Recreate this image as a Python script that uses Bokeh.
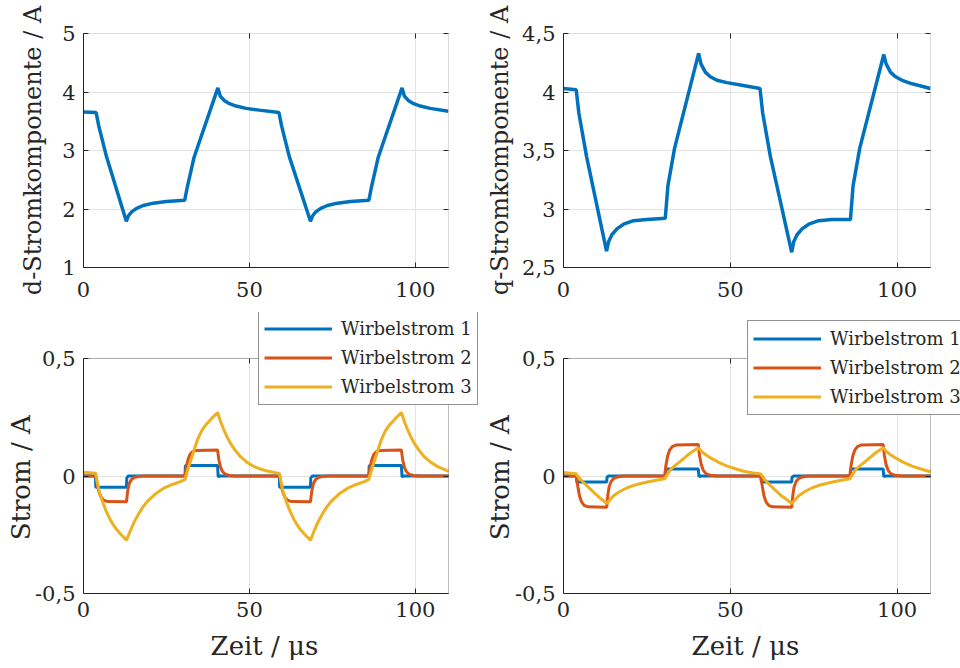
from bokeh.plotting import figure
from bokeh.models import (Range1d, FixedTicker, LinearAxis, Legend, LegendItem, BoxAnnotation, Grid)
from bokeh.layouts import row, column
from bokeh.embed import file_html
from bokeh.resources import INLINE

# ---------------- data ----------------
t_top = [0, 3.8, 4.6, 6.9, 12.9, 13.5, 14.5, 16, 18, 21, 25, 30.5, 31.3, 33.3, 40.5,
         41.2, 42.5, 44, 46, 49, 53, 58.9, 59.7, 62.0, 68.4, 69, 70, 71.5, 73.5, 76.5,
         80.5, 86, 86.8, 88.8, 96, 96.7, 98, 99.5, 101.5, 104.5, 110]
d_current = [3.66, 3.65, 3.42, 2.9, 1.79, 1.88, 1.95, 2.01, 2.06, 2.10, 2.13, 2.15, 2.38, 2.88, 4.07,
             3.93, 3.85, 3.80, 3.76, 3.72, 3.69, 3.65, 3.42, 2.9, 1.79, 1.88, 1.95, 2.01, 2.06, 2.10,
             2.13, 2.15, 2.38, 2.88, 4.07, 3.93, 3.85, 3.80, 3.76, 3.72, 3.67]
q_current = [4.03, 4.02, 3.82, 3.45, 2.64, 2.72, 2.78, 2.83, 2.87, 2.90, 2.91, 2.92, 3.2, 3.52, 4.33,
             4.24, 4.17, 4.13, 4.10, 4.08, 4.06, 4.03, 3.82, 3.45, 2.63, 2.72, 2.78, 2.83, 2.87, 2.90,
             2.91, 2.91, 3.2, 3.52, 4.32, 4.24, 4.17, 4.13, 4.10, 4.07, 4.03]

t_dl_w1 = [0, 3.6, 3.7, 12.95, 13.05, 13.5, 30.6, 30.7, 40.4, 40.6, 41.1,
           59.0, 59.1, 68.4, 68.5, 69.0, 86.0, 86.1, 95.8, 96.0, 96.5, 110]
dl_w1 = [0, 0, -0.048, -0.048, -0.008, 0, 0, 0.045, 0.045, -0.004, 0,
         0, -0.048, -0.048, -0.008, 0, 0, 0.045, 0.045, -0.004, 0, 0]

t_dl_w2 = [0, 3.7, 4.2, 4.7, 5.3, 6.1, 7.3,
           12.95, 13.3, 13.8, 14.4, 15.2, 16.5, 18,
           30.6, 31.0, 31.5, 32.1, 32.9, 34.0,
           40.4, 40.8, 41.3, 41.9, 42.7, 44.0, 46,
           59.1, 59.6, 60.1, 60.7, 61.5, 62.7,
           68.4, 68.8, 69.3, 69.9, 70.7, 72.0, 73.5,
           86.0, 86.4, 86.9, 87.5, 88.3, 89.4,
           95.8, 96.2, 96.7, 97.3, 98.1, 99.4, 101.4, 110]
dl_w2 = [0, 0, -0.04, -0.07, -0.09, -0.103, -0.109,
         -0.11, -0.065, -0.032, -0.016, -0.007, -0.002, 0,
         0, 0.04, 0.07, 0.092, 0.104, 0.109,
         0.111, 0.068, 0.038, 0.019, 0.008, 0.002, 0,
         0, -0.04, -0.07, -0.09, -0.103, -0.109,
         -0.11, -0.065, -0.032, -0.016, -0.007, -0.002, 0,
         0, 0.04, 0.07, 0.092, 0.104, 0.109,
         0.111, 0.068, 0.038, 0.019, 0.008, 0.002, 0, 0]

t_dl_w3 = [0, 3.7, 4.1, 5.0, 6.1, 7.0, 8.1, 9.0, 10.1, 11.5,
           12.95, 14.2, 15.3, 16.7, 18.0, 19.2, 21.5, 24.2, 27.0, 29.2, 30.6,
           31.6, 32.7, 34.3, 35.5, 36.8, 38.5,
           40.4, 41.3, 42.3, 43.3, 44.3, 45.8, 47.3, 49.3, 51.3, 53.3, 55.4,
           59.1, 59.5, 60.4, 61.5, 62.4, 63.5, 64.4, 65.5, 66.9,
           68.4, 69.6, 70.7, 72.1, 73.4, 74.6, 76.9, 79.6, 82.4, 84.6, 86.0,
           87.0, 88.1, 89.7, 90.9, 92.2, 93.9,
           95.8, 96.7, 97.7, 98.7, 99.7, 101.2, 102.7, 104.7, 106.7, 108.7, 110]
dl_w3 = [0.016, 0.012, -0.025, -0.08, -0.123, -0.155, -0.187, -0.208, -0.23, -0.252,
         -0.273, -0.23, -0.195, -0.159, -0.13, -0.109, -0.078, -0.052, -0.035, -0.024, -0.014,
         0.035, 0.082, 0.153, 0.19, 0.217, 0.243,
         0.27, 0.232, 0.196, 0.165, 0.139, 0.108, 0.082, 0.058, 0.04, 0.03, 0.021,
         0.01, -0.025, -0.08, -0.123, -0.155, -0.187, -0.208, -0.23, -0.252,
         -0.273, -0.23, -0.195, -0.159, -0.13, -0.109, -0.078, -0.052, -0.035, -0.024, -0.014,
         0.035, 0.082, 0.153, 0.19, 0.217, 0.243,
         0.27, 0.232, 0.196, 0.165, 0.139, 0.108, 0.082, 0.058, 0.04, 0.028, 0.02]

t_ql_w1 = [0, 3.9, 4.0, 12.95, 13.05, 13.5, 30.6, 30.7, 40.4, 40.6, 41.1,
           59.2, 59.3, 68.4, 68.5, 69.0, 86.0, 86.1, 95.8, 96.0, 96.5, 110]
ql_w1 = [0, 0, -0.026, -0.026, -0.005, 0, 0, 0.03, 0.03, -0.003, 0,
         0, -0.026, -0.026, -0.005, 0, 0, 0.03, 0.03, -0.003, 0, 0]

t_ql_w2 = [0, 3.8, 4.3, 4.8, 5.4, 6.2, 7.3,
           12.95, 13.3, 13.7, 14.3, 15.1, 16.2, 17.5,
           30.3, 30.7, 31.2, 31.8, 32.6, 33.8,
           40.4, 40.8, 41.3, 41.9, 42.7, 44.0, 46,
           59.1, 59.6, 60.1, 60.7, 61.5, 62.6,
           68.4, 68.75, 69.15, 69.75, 70.55, 71.65, 73.0,
           85.8, 86.2, 86.7, 87.3, 88.1, 89.3,
           95.8, 96.2, 96.7, 97.3, 98.1, 99.4, 101.4, 110]
ql_w2 = [0, 0, -0.045, -0.085, -0.11, -0.125, -0.131,
         -0.133, -0.08, -0.045, -0.022, -0.01, -0.004, 0,
         0, 0.045, 0.085, 0.11, 0.125, 0.132,
         0.134, 0.085, 0.048, 0.024, 0.01, 0.003, 0,
         0, -0.045, -0.085, -0.11, -0.125, -0.131,
         -0.133, -0.08, -0.045, -0.022, -0.01, -0.004, 0,
         0, 0.045, 0.085, 0.11, 0.125, 0.132,
         0.134, 0.085, 0.048, 0.024, 0.01, 0.003, 0, 0]

t_ql_w3 = [0, 3.8, 4.1, 5.5, 7.1, 8.6, 10.1, 11.4,
           12.95, 14.0, 15.1, 17.0, 19.1, 21.5, 24.1, 27.0, 30.3,
           31.2, 32.1, 33.6, 35.1, 36.6, 38.1,
           40.4, 41.3, 42.3, 44.1, 46.5, 49.1, 51.5, 54.0, 56.5,
           59.1, 60.6, 62.2, 63.7, 65.2, 66.8,
           68.4, 69.5, 70.6, 72.5, 74.6, 77.0, 79.6, 82.5, 85.8,
           86.7, 87.6, 89.1, 90.6, 92.1, 93.6,
           95.8, 96.7, 97.7, 99.5, 101.9, 104.5, 106.9, 110]
ql_w3 = [0.015, 0.01, 0.002, -0.02, -0.043, -0.063, -0.083, -0.099,
         -0.117, -0.1, -0.083, -0.065, -0.05, -0.038, -0.029, -0.02, -0.012,
         0.008, 0.028, 0.046, 0.063, 0.081, 0.099,
         0.12, 0.106, 0.094, 0.077, 0.058, 0.042, 0.031, 0.02, 0.014,
         0.009, -0.02, -0.043, -0.063, -0.083, -0.099,
         -0.117, -0.1, -0.083, -0.065, -0.05, -0.038, -0.029, -0.02, -0.012,
         0.008, 0.028, 0.046, 0.063, 0.081, 0.099,
         0.12, 0.106, 0.094, 0.077, 0.058, 0.042, 0.031, 0.018]

legend_labels = ["Wirbelstrom 1", "Wirbelstrom 2", "Wirbelstrom 3"]

x_ticks = [0, 50, 100]
x_tick_labels = ["0", "50", "100"]
d_ticks = [1, 2, 3, 4, 5]
d_tick_labels = ["1", "2", "3", "4", "5"]
q_ticks = [2.5, 3, 3.5, 4, 4.5]
q_tick_labels = ["2,5", "3", "3,5", "4", "4,5"]
s_ticks = [-0.5, 0, 0.5]
s_tick_labels = ["-0,5", "0", "0,5"]

# ---------------- styling ----------------
BLUE, RED, YELLOW = "#0072BD", "#D95319", "#EDB120"
FONT = "DejaVu Serif"
INK = "#262626"
GRID = "#e3e3e3"
TICK_FS = "21px"
NB = "\u00a0"   # padding so that labels sit centred on the data box, not on the enlarged frame
HAS_CROSS = "cross_bounds" in Grid.properties()


def overrides(ticks, labels):
    return {float(t): l for t, l in zip(ticks, labels)}


def make_panel(width, height, box, frame, y_lo, y_hi, yt, ytl, ylab, label_fs, ylab_standoff,
               x_standoff, xlab=None, xlab_standoff=0):
    """box / frame = (left, right, top, bottom) in pixels inside the figure.
    The frame shares its left and bottom edges with the data box (x 0..110,
    y y_lo..y_hi) but may reach further up / right so a legend can overlap the box."""
    bl, br, bt, bb = box
    fl, fr, ft, fb = frame
    kx = 110 / (br - bl)
    ky = (y_hi - y_lo) / (bb - bt)
    x_range = Range1d(0, 110 + (fr - br) * kx)
    y_range = Range1d(y_lo, y_hi + (bt - ft) * ky)
    p = figure(width=width, height=height, x_range=x_range, y_range=y_range,
               output_backend="svg", toolbar_location=None,
               min_border_left=fl, min_border_right=width - fr,
               min_border_top=ft, min_border_bottom=height - fb)
    p.background_fill_color = "white"
    p.border_fill_color = "white"
    p.outline_line_color = None

    xa, ya = p.xaxis[0], p.yaxis[0]
    for ax, ticks, labels, so, bnd in ((xa, x_ticks, x_tick_labels, x_standoff, (0, 110)),
                                       (ya, yt, ytl, 8, (y_lo, y_hi))):
        ax.bounds = bnd
        ax.ticker = FixedTicker(ticks=ticks)
        ax.major_label_overrides = overrides(ticks, labels)
        ax.major_label_text_font = FONT
        ax.major_label_text_font_size = TICK_FS
        ax.major_label_text_color = INK
        ax.major_label_standoff = so
        ax.major_tick_in = 5
        ax.major_tick_out = 0
        ax.major_tick_line_color = INK
        ax.minor_tick_line_color = None
        ax.axis_line_color = INK
        ax.axis_label_text_font = FONT
        ax.axis_label_text_font_size = label_fs
        ax.axis_label_text_font_style = "normal"
        ax.axis_label_text_color = INK

    ya.axis_label = ylab
    ya.axis_label_standoff = ylab_standoff
    if xlab:
        xa.axis_label = xlab
        xa.axis_label_standoff = xlab_standoff

    # mirrored inner ticks on top and right of the box (MATLAB "box on")
    if (ft, fr) == (bt, br):
        top_ax = LinearAxis(ticker=FixedTicker(ticks=x_ticks), major_label_text_color=None,
                            major_tick_in=5, major_tick_out=0, major_tick_line_color=INK,
                            minor_tick_line_color=None, axis_line_color=None,
                            major_label_standoff=0)
        p.add_layout(top_ax, "above")
        right_ax = LinearAxis(ticker=FixedTicker(ticks=yt), major_label_text_color=None,
                              major_tick_in=5, major_tick_out=0, major_tick_line_color=INK,
                              minor_tick_line_color=None, axis_line_color=None,
                              major_label_standoff=0)
        p.add_layout(right_ax, "right")
    else:
        top_ax = LinearAxis(ticker=FixedTicker(ticks=x_ticks), fixed_location=y_hi,
                            bounds=(0, 110), major_label_text_color=None, major_tick_in=5,
                            major_tick_out=0, major_tick_line_color=INK,
                            minor_tick_line_color=None, axis_line_color=None,
                            major_label_standoff=0)
        p.add_layout(top_ax, "above")
        right_ax = LinearAxis(ticker=FixedTicker(ticks=yt), fixed_location=110,
                              bounds=(y_lo, y_hi), major_label_text_color=None,
                              major_tick_in=5, major_tick_out=0, major_tick_line_color=INK,
                              minor_tick_line_color=None, axis_line_color=None,
                              major_label_standoff=0)
        p.add_layout(right_ax, "right")

    p.xgrid.ticker = FixedTicker(ticks=x_ticks)
    p.ygrid.ticker = FixedTicker(ticks=yt)
    p.xgrid.grid_line_color = GRID
    p.ygrid.grid_line_color = GRID
    if HAS_CROSS:
        p.xgrid.cross_bounds = (y_lo, y_hi)
        p.ygrid.cross_bounds = (0, 110)

    box_ann = BoxAnnotation(left=0, right=110, bottom=y_lo, top=y_hi, fill_color=None,
                            line_color=INK, line_width=1)
    p.add_layout(box_ann)
    return p


# top-left: d component
p1 = make_panel(480, 310, (83, 448, 33, 267), (83, 448, 33, 267), 1, 5, d_ticks, d_tick_labels,
                "d-Stromkomponente / A", "24px", 12, 14)
p1.line(t_top, d_current, line_color=BLUE, line_width=3.5)

# top-right: q component
p2 = make_panel(480, 310, (83, 450, 33, 267), (83, 450, 33, 267), 2.5, 4.5, q_ticks, q_tick_labels,
                "q-Stromkomponente / A", "24px", 5, 14)
p2.line(t_top, q_current, line_color=BLUE, line_width=3.5)

# bottom-left (frame reaches up / right for the legend)
p3 = make_panel(480, 358, (83, 448, 48, 283), (83, 478, 2, 283), -0.5, 0.5, s_ticks, s_tick_labels,
                "Strom / A" + NB * 6, "26px", -4, 8, "Zeit / μs" + NB * 4, 11)
r31 = p3.line(t_dl_w1, dl_w1, line_color=BLUE, line_width=3)
r32 = p3.line(t_dl_w2, dl_w2, line_color=RED, line_width=3)
r33 = p3.line(t_dl_w3, dl_w3, line_color=YELLOW, line_width=3)

# bottom-right
p4 = make_panel(480, 358, (83, 450, 48, 283), (83, 480, 2, 283), -0.5, 0.5, s_ticks, s_tick_labels,
                "Strom / A" + NB * 6, "26px", -3, 8, "Zeit / μs" + NB * 4, 11)
r41 = p4.line(t_ql_w1, ql_w1, line_color=BLUE, line_width=3)
r42 = p4.line(t_ql_w2, ql_w2, line_color=RED, line_width=3)
r43 = p4.line(t_ql_w3, ql_w3, line_color=YELLOW, line_width=3)


def add_legend(p, renderers, loc):
    items = [LegendItem(label=lab, renderers=[r]) for lab, r in zip(legend_labels, renderers)]
    lg = Legend(items=items, location=loc)
    lg.label_text_font = FONT
    lg.label_text_font_size = "18px"
    lg.label_text_color = INK
    lg.border_line_color = INK
    lg.border_line_width = 1
    lg.background_fill_color = "white"
    lg.background_fill_alpha = 1
    lg.glyph_width = 68
    lg.glyph_height = 25
    lg.label_height = 25
    lg.label_standoff = 9
    lg.spacing = 4
    lg.padding = 5
    lg.margin = 0
    p.add_layout(lg)


add_legend(p3, [r31, r32, r33], (175, 188))
add_legend(p4, [r41, r42, r43], (184, 178))

layout = column(row(p1, p2), row(p3, p4))

with open("out.html", "w") as f:
    f.write(file_html(layout, INLINE))
